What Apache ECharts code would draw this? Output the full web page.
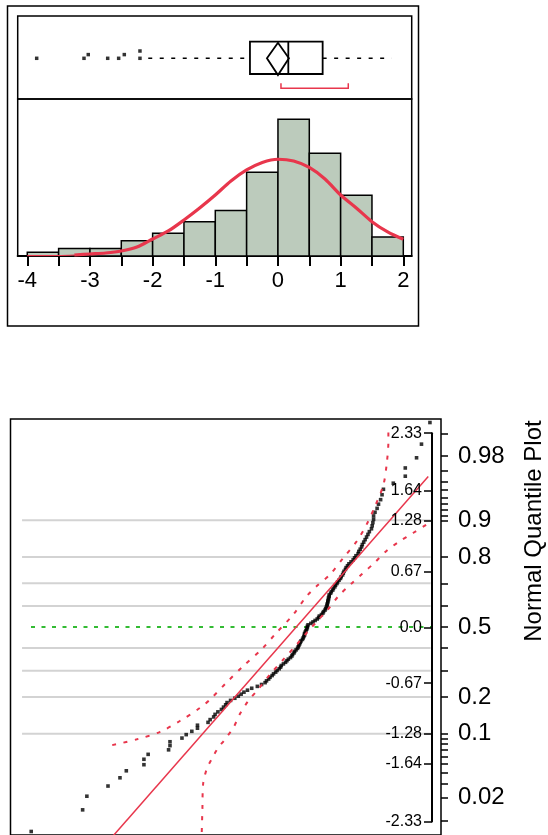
<!DOCTYPE html>
<html>
<head>
<meta charset="utf-8">
<script src="https://cdn.jsdelivr.net/npm/echarts@6/dist/echarts.min.js"></script>
<style>html,body{margin:0;padding:0;background:#fff;}#c{width:548px;height:835px;}</style>
</head>
<body>
<div id="c"></div>
<script>
// ---------- data ----------
const binStarts = [-4,-3.5,-3,-2.5,-2,-1.5,-1,-0.5,0,0.5,1,1.5];
const binWidth = 0.5;
const binCounts = [1,2,2,4,6,9,12,22,36,27,16,5];

const curveX = [-4,-3.75,-3.5,-3.25,-3,-2.75,-2.5,-2.25,-2,-1.75,-1.5,-1.25,-1,-0.75,-0.5,-0.25,0,0.25,0.5,0.75,1,1.25,1.5,1.75,2];
const curveY = [0.08,0.1,0.13,0.26,0.53,0.79,1.32,2.37,4.47,6.58,9.47,12.63,16.05,19.74,22.63,24.6,25.45,25.0,23.29,20.26,16.05,12.63,9.03,6.32,4.39];

const histTicks = [-4,-3.5,-3,-2.5,-2,-1.5,-1,-0.5,0,0.5,1,1.5,2];
const histLabels = [-4,-3,-2,-1,0,1,2];

const boxStats = [-2.07, -0.447, 0.165, 0.713, 1.815]; // whisker lo, Q1, median, Q3, whisker hi
const meanDiamond = [-0.176, 0.0, 0.175];              // CI low, mean, CI high
const outliers = [-3.85,-3.095,-3.027,-2.717,-2.542,-2.452,-2.202,-2.202];
const shortestHalf = [0.048, 1.122];

const qqValues = [
 -3.85,-3.12,-3.06,-2.76,-2.59,-2.50,-2.25,-2.25,-2.19,-1.90,
 -1.88,-1.88,-1.71,-1.65,-1.57,-1.49,-1.49,-1.34,-1.31,-1.26,
 -1.24,-1.20,-1.15,-1.12,-1.09,-1.07,-1.02,-0.96,-0.91,-0.87,
 -0.83,-0.78,-0.72,-0.64,-0.58,-0.53,-0.51,-0.48,-0.46,-0.43,
 -0.41,-0.38,-0.36,-0.33,-0.31,-0.30,-0.27,-0.24,-0.22,-0.20,
 -0.17,-0.15,-0.14,-0.12,-0.11,-0.09,-0.07,-0.06,-0.05,-0.04,
 -0.03,-0.02,0.00,0.01,0.02,0.03,0.03,0.04,0.05,0.06,
 0.07,0.07,0.08,0.12,0.15,0.18,0.21,0.23,0.24,0.27,
 0.29,0.30,0.32,0.33,0.34,0.35,0.35,0.36,0.36,0.37,
 0.37,0.38,0.38,0.40,0.41,0.43,0.44,0.46,0.47,0.49,
 0.50,0.52,0.54,0.55,0.57,0.58,0.59,0.61,0.62,0.64,
 0.66,0.69,0.72,0.74,0.76,0.79,0.80,0.82,0.84,0.85,
 0.87,0.89,0.91,0.93,0.95,0.98,0.99,1.00,1.01,1.01,
 1.03,1.06,1.08,1.11,1.13,1.15,1.29,1.46,1.46,1.62,
 1.69,1.81
];

const fitLineX = [-2.78, 1.786];
const fitLineZ = [-2.6, 1.81];

const upperBandX = [-2.70,-2.35,-2.02,-1.74,-1.45,-1.31,-1.08,-0.84,-0.58,-0.37,-0.13,0.06,0.20,0.39,0.58,0.77,0.91,1.03,1.15,1.20,1.22,1.22];
const upperBandZ = [-1.42,-1.35,-1.26,-1.13,-0.97,-0.87,-0.67,-0.47,-0.27,-0.07,0.15,0.37,0.49,0.63,0.83,1.03,1.23,1.45,1.71,1.99,2.23,2.42];
const lowerBandX = [-1.435,-1.43,-1.42,-1.41,-1.36,-1.29,-1.21,-1.10,-0.98,-0.89,-0.77,-0.63,-0.46,-0.27,-0.08,0.08,0.22,0.36,0.51,0.68,0.85,1.02,1.20,1.38,1.57,1.78];
const lowerBandZ = [-2.6,-2.49,-2.19,-1.89,-1.71,-1.59,-1.47,-1.35,-1.21,-1.05,-0.89,-0.75,-0.57,-0.39,-0.21,-0.05,0.08,0.21,0.37,0.51,0.64,0.77,0.92,1.03,1.13,1.24];

const probTicks = [0.01,0.02,0.03,0.04,0.05,0.06,0.07,0.08,0.09,0.1,0.2,0.3,0.4,0.5,0.6,0.7,0.8,0.9,0.91,0.92,0.93,0.94,0.95,0.96,0.97,0.98,0.99];
const probLabelValues = [0.02,0.1,0.2,0.5,0.8,0.9,0.98];
const probLabels = ['0.02','0.1','0.2','0.5','0.8','0.9','0.98'];
const gridProbs = [0.1,0.2,0.3,0.4,0.6,0.7,0.8,0.9];
const quantileTicks = [-2.33,-1.64,-1.28,-0.67,0,0.67,1.28,1.64,2.33];
const quantileLabels = ['-2.33','-1.64','-1.28','-0.67','0.0','0.67','1.28','1.64','2.33'];
const axisTitle = 'Normal Quantile Plot';

// ---------- helpers ----------
function normInv(p){
  const a=[-3.969683028665376e+01,2.209460984245205e+02,-2.759285104469687e+02,1.383577518672690e+02,-3.066479806614716e+01,2.506628277459239e+00];
  const b=[-5.447609879822406e+01,1.615858368580409e+02,-1.556989798598866e+02,6.680131188771972e+01,-1.328068155288572e+01];
  const c=[-7.784894002430293e-03,-3.223964580411365e-01,-2.400758277161838e+00,-2.549732539343734e+00,4.374664141464968e+00,2.938163982698783e+00];
  const d=[7.784695709041462e-03,3.224671290700398e-01,2.445134137142996e+00,3.754408661907416e+00];
  const pl=0.02425, ph=1-pl; let q,r;
  if(p<pl){q=Math.sqrt(-2*Math.log(p));return (((((c[0]*q+c[1])*q+c[2])*q+c[3])*q+c[4])*q+c[5])/((((d[0]*q+d[1])*q+d[2])*q+d[3])*q+1);}
  if(p>ph){q=Math.sqrt(-2*Math.log(1-p));return -(((((c[0]*q+c[1])*q+c[2])*q+c[3])*q+c[4])*q+c[5])/((((d[0]*q+d[1])*q+d[2])*q+d[3])*q+1);}
  q=p-0.5;r=q*q;return (((((a[0]*r+a[1])*r+a[2])*r+a[3])*r+a[4])*r+a[5])*q/(((((b[0]*r+b[1])*r+b[2])*r+b[3])*r+b[4])*r+1);
}
function nearestIdx(arr, v){ let bi=0, bd=Infinity; arr.forEach((a,i)=>{const d=Math.abs(a-v); if(d<bd){bd=d;bi=i;}}); return bi; }

const FONT = '"Liberation Sans", Arial, sans-serif';
const RED = '#e8364c';
const n = qqValues.length;
const qqData = qqValues.map((v,i)=>[v, normInv((i+1)/(n+1))]);
const probTickZ = probTicks.map(normInv);
const probLabelZ = probLabelValues.map(normInv);

// outliers with vertical stacking for near-duplicates
const BOX_CY = 42.3;
const outlierData = outliers.map((v,i)=>{
  let y = BOX_CY;
  if(i>0){ const d = Math.abs(v-outliers[i-1]); if(d<0.005) y = BOX_CY-7.3; else if(d<0.1) y = BOX_CY-3.7; }
  return [v,y];
});

const chart = echarts.init(document.getElementById('c'), null, {renderer:'canvas'});
const noLine = {show:false, onZero:false};

chart.setOption({
  animation:false,
  backgroundColor:'#fff',
  grid:[
    {left:17.7, top:16, width:394, height:83, show:true, borderColor:'#000', borderWidth:1.5, backgroundColor:'transparent'},
    {left:17.7, top:99, width:394, height:157, show:true, borderColor:'#000', borderWidth:1.5, backgroundColor:'transparent'},
    {left:10.5, top:419, width:430.5, height:416.5, show:true, borderColor:'#000', borderWidth:1.5, backgroundColor:'transparent'},
    {left:10.5, top:433.2, width:421.5, height:388.2, show:false}
  ],
  xAxis:[
    {gridIndex:0, type:'value', min:-4.153, max:2.134, show:false, axisLine:noLine},
    {gridIndex:1, type:'value', min:-4.153, max:2.134, position:'bottom',
      axisLine:{show:true, onZero:false, lineStyle:{color:'#000', width:2}},
      axisTick:{show:true, length:10, lineStyle:{color:'#000', width:2}, customValues:histTicks},
      axisLabel:{show:true, margin:14, fontSize:22, color:'#000', fontFamily:FONT, customValues:histLabels},
      splitLine:{show:false}},
    {gridIndex:2, type:'value', min:-4.144, max:1.967, show:false, axisLine:noLine},
    {gridIndex:3, type:'value', min:0, max:1, show:false, axisLine:noLine}
  ],
  yAxis:[
    {gridIndex:0, type:'value', min:0, max:83, inverse:true, show:false, axisLine:noLine},
    {gridIndex:1, type:'value', min:0, max:41.3, show:false, axisLine:noLine},
    {gridIndex:2, type:'value', min:-2.5, max:2.5, position:'right',
      axisLine:{show:false, onZero:false},
      axisTick:{show:true, length:7, lineStyle:{color:'#000', width:1.5}, customValues:probTickZ},
      axisLabel:{show:true, margin:17, fontSize:24, color:'#000', fontFamily:FONT, customValues:probLabelZ,
        formatter:(v)=>probLabels[nearestIdx(probLabelZ, v)]},
      splitLine:{show:false}},
    {gridIndex:3, type:'value', min:-2.33, max:2.33, position:'right', z:20,
      axisLine:{show:true, onZero:false, lineStyle:{color:'#000', width:2}},
      axisTick:{show:true, inside:true, length:8, lineStyle:{color:'#000', width:1.5}, customValues:quantileTicks},
      axisLabel:{show:true, inside:true, margin:10, fontSize:16, color:'#000', fontFamily:FONT, customValues:quantileTicks,
        formatter:(v)=>quantileLabels[nearestIdx(quantileTicks, v)]},
      splitLine:{show:false}}
  ],
  graphic:[
    {type:'rect', shape:{x:7.5, y:6, width:411, height:320}, style:{fill:'transparent', stroke:'#000', lineWidth:1.5}, silent:true},
    {type:'text', x:534, y:531, rotation:Math.PI/2, silent:true,
      style:{text:axisTitle, font:'24px '+FONT, fill:'#000', align:'center', verticalAlign:'middle'}}
  ],
  series:[
    // ----- histogram -----
    {type:'custom', xAxisIndex:1, yAxisIndex:1, silent:true,
      data: binStarts.map((s,i)=>[s, s+binWidth, binCounts[i]]),
      renderItem:(params, api)=>{
        const p0 = api.coord([api.value(0), 0]);
        const p1 = api.coord([api.value(1), api.value(2)]);
        return {type:'rect', shape:{x:p0[0], y:p1[1], width:p1[0]-p0[0], height:p0[1]-p1[1]},
          style:{fill:'#bccbbc', stroke:'#000', lineWidth:1.5}};
      }},
    {type:'line', xAxisIndex:1, yAxisIndex:1, silent:true, symbol:'none', smooth:0.3,
      data: curveX.slice(0,4).map((x,i)=>[x, curveY[i]]),
      lineStyle:{color:RED, width:1.2}},
    {type:'line', xAxisIndex:1, yAxisIndex:1, silent:true, symbol:'none', smooth:0.3,
      data: curveX.map((x,i)=>[x, curveY[i]]).slice(3),
      lineStyle:{color:RED, width:3.2}},
    // ----- box plot -----
    {type:'custom', xAxisIndex:0, yAxisIndex:0, silent:true,
      data:[[boxStats[0],boxStats[1],boxStats[2],boxStats[3],boxStats[4],meanDiamond[0],meanDiamond[1],meanDiamond[2]]],
      renderItem:(params, api)=>{
        const c = (x,y)=>api.coord([x,y]);
        const lo=api.value(0), q1=api.value(1), med=api.value(2), q3=api.value(3), hi=api.value(4);
        const cl=api.value(5), mu=api.value(6), ch=api.value(7);
        const top=25.7, bot=58, cy=BOX_CY;
        const a=c(q1,top), b=c(q3,bot);
        const dash={stroke:'#000', lineWidth:1.5, lineDash:[4,7.5]};
        return {type:'group', children:[
          {type:'line', shape:{x1:c(lo,cy)[0], y1:c(lo,cy)[1], x2:c(q1,cy)[0], y2:c(q1,cy)[1]}, style:dash},
          {type:'line', shape:{x1:c(q3,cy)[0], y1:c(q3,cy)[1], x2:c(hi,cy)[0], y2:c(hi,cy)[1]}, style:dash},
          {type:'rect', shape:{x:a[0], y:a[1], width:b[0]-a[0], height:b[1]-a[1]}, style:{fill:'#fff', stroke:'#000', lineWidth:1.8}},
          {type:'line', shape:{x1:c(med,top)[0], y1:c(med,top)[1], x2:c(med,bot)[0], y2:c(med,bot)[1]}, style:{stroke:'#000', lineWidth:1.8}},
          {type:'polygon', shape:{points:[c(cl,cy), c(mu,top+1), c(ch,cy), c(mu,bot+1)]}, style:{fill:'transparent', stroke:'#000', lineWidth:1.8}}
        ]};
      }},
    {type:'scatter', xAxisIndex:0, yAxisIndex:0, silent:true, symbol:'rect', symbolSize:3.5,
      itemStyle:{color:'#000'}, data: outlierData},
    {type:'custom', xAxisIndex:0, yAxisIndex:0, silent:true,
      data:[[shortestHalf[0], shortestHalf[1]]],
      renderItem:(params, api)=>{
        const x0=api.value(0), x1=api.value(1);
        const pts=[api.coord([x0,67.3]), api.coord([x0,72.3]), api.coord([x1,72.3]), api.coord([x1,67.3])];
        return {type:'polyline', shape:{points:pts}, style:{fill:null, stroke:RED, lineWidth:1.5}};
      }},
    // ----- normal quantile plot -----
    {type:'custom', xAxisIndex:2, yAxisIndex:2, silent:true, z:1,
      data: gridProbs.map(p=>[normInv(p)]),
      renderItem:(params, api)=>{
        const z=api.value(0);
        const p0=api.coord([-3.98, z]), p1=api.coord([1.82, z]);
        return {type:'line', shape:{x1:p0[0], y1:p0[1], x2:p1[0], y2:p1[1]}, style:{stroke:'#d3d3d3', lineWidth:2}};
      }},
    {type:'line', xAxisIndex:2, yAxisIndex:2, silent:true, symbol:'none', z:1,
      data:[[-3.853, 0],[1.825, 0]], lineStyle:{color:'#33bb33', width:2, type:[4,6.5]}},
    {type:'line', xAxisIndex:2, yAxisIndex:2, silent:true, symbol:'none', smooth:0.3,
      data: upperBandX.map((x,i)=>[x, upperBandZ[i]]), lineStyle:{color:RED, width:2, type:[4,7.5]}},
    {type:'line', xAxisIndex:2, yAxisIndex:2, silent:true, symbol:'none', smooth:0.3,
      data: lowerBandX.map((x,i)=>[x, lowerBandZ[i]]), lineStyle:{color:RED, width:2, type:[4,7.5]}},
    {type:'line', xAxisIndex:2, yAxisIndex:2, silent:true, symbol:'none',
      data: fitLineX.map((x,i)=>[x, fitLineZ[i]]), lineStyle:{color:RED, width:1.5}},
    {type:'scatter', xAxisIndex:2, yAxisIndex:2, silent:true, symbol:'rect', symbolSize:3.6,
      itemStyle:{color:'#000'}, data: qqData}
  ]
});
</script>
</body>
</html>
